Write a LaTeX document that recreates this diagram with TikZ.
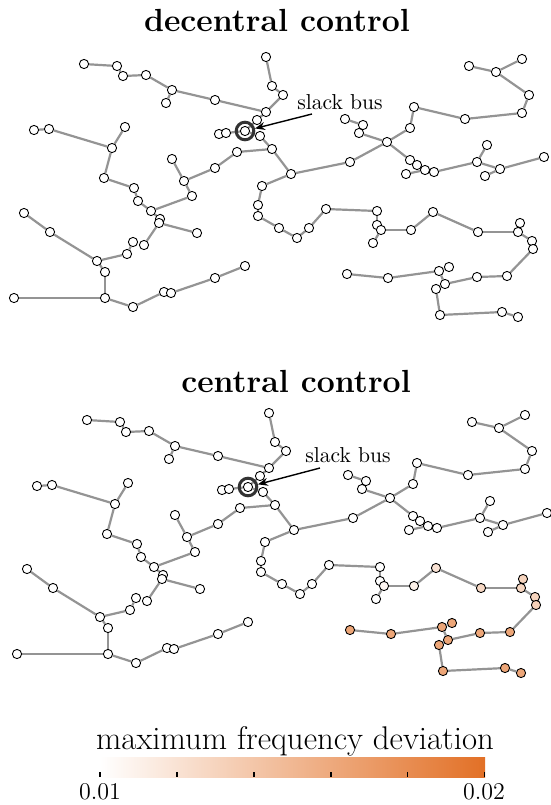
\documentclass[tikz,border=0pt]{standalone}
\usepackage{fontspec}
\usetikzlibrary{arrows.meta}
\definecolor{devmax}{RGB}{226,112,38}
\pgfdeclarelayer{bg}
\pgfsetlayers{bg,main}
\tikzset{
  bus/.style={circle,draw=black,line width=0.45pt,inner sep=0pt,minimum size=4.6pt},
  line/.style={draw=black!42,line width=1.1pt},
  ring/.style={circle,draw=black!80,line width=1.5pt,inner sep=0pt,minimum size=8.8pt},
  pointer/.style={-{Stealth[length=5pt,width=4pt]},line width=0.7pt},
  lbl/.style={inner sep=0pt,font=\fontsize{10.8}{12}\selectfont},
  title/.style={inner sep=0pt,font=\fontsize{16}{18}\selectfont\bfseries}
}
\newcommand\buslist{1/84/64/0, 2/117/66/0, 3/123/76/0, 4/146/75/0, 5/172/90/0,
  6/166/103/0, 7/215/100/0, 8/266/112/0, 9/257/120/0, 10/266/57/0, 11/272/86/0,
  12/283/95/0, 13/245/131/0, 14/219/134/0, 15/226/133/0, 16/260/136/0,
  17/272/149/0, 18/237/152/0, 19/215/168/0, 20/172/159/0, 21/184/181/0,
  22/192/196/0, 23/151/211/0, 24/138/201/0, 25/134/188/0, 26/104/178/0,
  27/112/148/0, 28/125/127/0, 29/49/129/0, 30/34/130/0, 31/160/219/0,
  32/159/223/0, 33/197/233/0, 34/144/245/0, 35/133/242/0, 36/127/254/0,
  37/97/261/0, 38/50/232/0, 39/24/213/0, 40/105/272/0, 41/105/298/0,
  42/14/298/0, 43/133/307/0, 44/164/292/0, 45/171/293/0, 46/215/278/0,
  47/245/266/0, 48/291/174/0, 49/262/186/0, 50/258/205/0, 51/258/216/0,
  52/279/228/0, 53/297/238/0, 54/309/228/0, 55/326/209/0, 56/377/211/0,
  57/377/225/0, 58/381/230/6, 59/373/243/0, 60/411/230/10, 61/433/212/20,
  62/478/232/27, 63/518/232/28, 64/520/223/30, 65/532/241/30, 66/533/249/32,
  67/507/276/62, 68/477/277/62, 69/445/284/62, 70/439/271/62, 71/449/267/62,
  72/436/289/62, 73/440/315/62, 74/502/312/62, 75/518/317/62, 76/388/278/62,
  77/347/274/62, 78/350/162/0, 79/387/142/0, 80/410/128/0, 81/414/107/0,
  82/465/119/0, 83/522/113/0, 84/529/95/0, 85/496/72/0, 86/469/66/0,
  87/522/59/0, 88/359/133/0, 89/363/125/0, 90/345/119/0, 91/410/160/0,
  92/417/165/0, 93/425/170/0, 94/434/172/0, 95/406/174/0, 96/477/162/0,
  97/487/145/0, 98/500/169/0, 99/485/176/0, 100/544/157/0}
\newcommand\linelist{1/2, 2/3, 3/4, 4/5, 5/6, 5/7, 7/8, 10/11, 11/12, 12/8,
  8/9, 9/13, 14/15, 15/13, 13/16, 16/17, 17/18, 18/19, 19/21, 20/21, 21/22,
  22/23, 23/24, 24/25, 25/26, 26/27, 27/28, 27/29, 29/30, 23/31, 31/32,
  32/33, 32/34, 37/36, 36/35, 37/38, 38/39, 37/40, 40/41, 41/42, 41/43,
  43/44, 44/45, 45/46, 46/47, 17/48, 48/49, 49/50, 50/51, 51/52, 52/53,
  53/54, 54/55, 55/56, 56/57, 57/58, 58/59, 58/60, 60/61, 61/62, 62/63,
  63/64, 63/65, 65/66, 66/67, 67/68, 68/69, 69/70, 70/71, 70/76, 76/77,
  69/72, 72/73, 73/74, 74/75, 48/78, 78/79, 79/80, 80/81, 81/82, 82/83,
  83/84, 84/85, 85/86, 85/87, 79/88, 88/89, 89/90, 79/91, 91/92, 92/93,
  93/94, 95/93, 94/96, 96/97, 96/98, 98/99, 98/100}
\begin{document}
\begin{tikzpicture}[x=0.5pt,y=-0.5pt]
\useasboundingbox (0,0) rectangle (551,805);
\foreach \g/\dx/\dy/\on in {t/0/0/0, b/3/356/1}{
  \foreach \n/\x/\y/\c in \buslist{
    \pgfmathtruncatemacro\sh{\c*\on}
    \node[bus,fill=devmax!\sh!white] (\g-\n) at (\x+\dx,\y+\dy) {};
  }
  \begin{pgfonlayer}{bg}
  \foreach \a/\b in \linelist
    \draw[line] (\g-\a) -- (\g-\b);
  \end{pgfonlayer}
  \node[ring] (\g-ring) at (\g-13) {};
}
\node[title] (t-title) at (277,20) {decentral control};
\node[title] (b-title) at (296,381) {central control};
\node[lbl] (t-lbl) at (340,102) {slack bus};
\coordinate (t-tail) at (312,114);
\draw[pointer] (t-tail) -- (t-ring);
\node[lbl] (b-lbl) at (348,455) {slack bus};
\coordinate (b-tail) at (320,468);
\draw[pointer] (b-tail) -- (b-ring);
\shade[left color=white,right color=devmax] (100,757) rectangle (485,777);
\foreach \i in {0,...,5}
  \draw[line width=0.8pt] (100+\i*76.9,772) -- (100+\i*76.9,777);
\node[inner sep=0pt,font=\fontsize{16.4}{19}\selectfont] (cb-label) at (295,741) {maximum frequency deviation};
\node[inner sep=0pt,font=\fontsize{12}{14}\selectfont] (cb-min) at (100,792) {0.01};
\node[inner sep=0pt,font=\fontsize{12}{14}\selectfont] (cb-max) at (484,792) {0.02};
\end{tikzpicture}
\end{document}
